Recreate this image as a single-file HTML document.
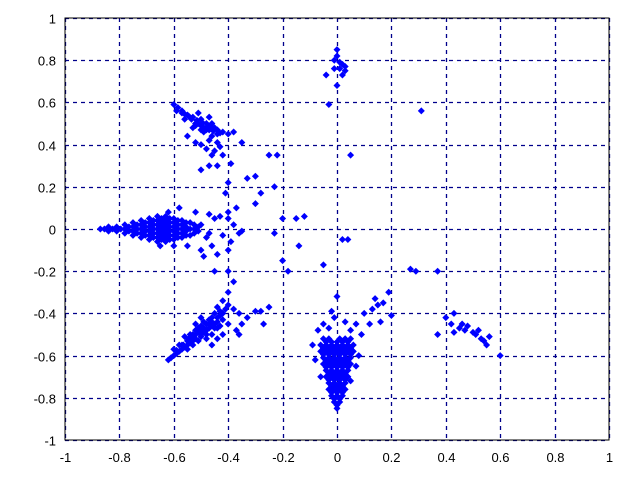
<!DOCTYPE html>
<html><head><meta charset="utf-8"><style>
html,body{margin:0;padding:0;background:#fff}
svg{display:block;font-family:"Liberation Sans",sans-serif}
</style></head><body>
<svg id="chart" width="640" height="480" viewBox="0 0 640 480" xmlns="http://www.w3.org/2000/svg">
<g id="grid"></g>
<g id="pts"></g>
<rect x="65" y="18" width="544" height="422" fill="none" stroke="#000" stroke-width="1"/>
<g id="ticks"></g>
</svg>
<script>
const xTicks=[-1,-0.8,-0.6,-0.4,-0.2,0,0.2,0.4,0.6,0.8,1];
const yTicks=[-1,-0.8,-0.6,-0.4,-0.2,0,0.2,0.4,0.6,0.8,1];
const tickLabels=["-1","-0.8","-0.6","-0.4","-0.2","0","0.2","0.4","0.6","0.8","1"];
const hBlob=[[-0.87,0],[-0.84,0.01],[-0.84,-0.01],[-0.81,0.01],[-0.81,-0.01],[-0.81,0],[-0.78,0.02],[-0.78,0],[-0.78,-0.02],[-0.75,0.03],[-0.75,0.01],[-0.75,-0.01],[-0.75,-0.03],[-0.72,0.04],[-0.72,0.02],[-0.72,0],[-0.72,-0.02],[-0.72,-0.04],[-0.69,0.05],[-0.69,0.03],[-0.69,0.01],[-0.69,-0.01],[-0.69,-0.03],[-0.69,-0.05],[-0.66,0.06],[-0.66,0.04],[-0.66,0.02],[-0.66,0],[-0.66,-0.02],[-0.66,-0.04],[-0.66,-0.06],[-0.63,0.06],[-0.63,0.04],[-0.63,0.02],[-0.63,0],[-0.63,-0.02],[-0.63,-0.04],[-0.63,-0.06],[-0.6,0.05],[-0.6,0.03],[-0.6,0.01],[-0.6,-0.01],[-0.6,-0.03],[-0.6,-0.05],[-0.57,0.04],[-0.57,0.02],[-0.57,0],[-0.57,-0.02],[-0.57,-0.04],[-0.54,0.03],[-0.54,0],[-0.54,-0.03],[-0.51,0.01],[-0.51,-0.01]];
const hCore=[[-0.855,0],[-0.825,0],[-0.795,0],[-0.765,0.01],[-0.765,-0.01],[-0.735,0.02],[-0.735,0],[-0.735,-0.02],[-0.705,0.03],[-0.705,0.01],[-0.705,-0.01],[-0.705,-0.03],[-0.675,0.04],[-0.675,0.02],[-0.675,0],[-0.675,-0.02],[-0.675,-0.04],[-0.645,0.05],[-0.645,0.03],[-0.645,0.01],[-0.645,-0.01],[-0.645,-0.03],[-0.645,-0.05],[-0.615,0.05],[-0.615,0.03],[-0.615,0.01],[-0.615,-0.01],[-0.615,-0.03],[-0.615,-0.05],[-0.585,0.04],[-0.585,0.02],[-0.585,0],[-0.585,-0.02],[-0.585,-0.04],[-0.555,0.03],[-0.555,0.01],[-0.555,-0.01],[-0.555,-0.03],[-0.525,0.02],[-0.525,0],[-0.525,-0.02]];
const hScatter=[[-0.5,0.02],[-0.47,-0.02],[-0.45,0.05],[-0.43,0.06],[-0.48,-0.04],[-0.42,-0.03],[-0.55,-0.08],[-0.6,-0.08],[-0.5,-0.1],[-0.46,-0.08],[-0.38,0.02],[-0.4,0.05],[-0.36,-0.02],[-0.39,-0.06],[-0.44,-0.12],[-0.49,-0.13],[-0.37,0.1],[-0.28,0.17],[-0.3,0.12],[-0.23,0.2],[-0.2,0.05],[-0.15,0.05],[-0.12,0.06],[-0.23,-0.02],[-0.14,-0.08],[-0.05,-0.17],[0.02,-0.05],[0.04,-0.05],[-0.2,-0.15],[-0.18,-0.2],[-0.4,-0.2],[-0.45,-0.2],[-0.38,-0.25],[-0.4,-0.1],[-0.58,0.1],[-0.52,0.08],[-0.47,0.07],[-0.4,0.08],[-0.65,-0.08],[-0.62,0.08],[-0.35,-0.01],[-0.41,0.17]];
const llBlob=[[-0.62,-0.62],[-0.6,-0.6],[-0.58,-0.58],[-0.6,-0.57],[-0.57,-0.55],[-0.55,-0.57],[-0.55,-0.53],[-0.53,-0.55],[-0.56,-0.51],[-0.53,-0.51],[-0.51,-0.53],[-0.52,-0.48],[-0.5,-0.5],[-0.48,-0.52],[-0.5,-0.46],[-0.48,-0.48],[-0.46,-0.5],[-0.49,-0.44],[-0.47,-0.45],[-0.45,-0.47],[-0.46,-0.42],[-0.44,-0.44],[-0.43,-0.46],[-0.45,-0.4],[-0.43,-0.41],[-0.42,-0.43],[-0.44,-0.37],[-0.41,-0.38],[-0.58,-0.55],[-0.54,-0.5],[-0.51,-0.47],[-0.47,-0.43],[-0.42,-0.34],[-0.4,-0.36],[-0.38,-0.38],[-0.36,-0.4],[-0.35,-0.45],[-0.37,-0.48],[-0.4,-0.45],[-0.36,-0.5],[-0.42,-0.5],[-0.46,-0.55],[-0.44,-0.52],[-0.3,-0.39],[-0.33,-0.42],[-0.28,-0.39],[-0.27,-0.45],[-0.25,-0.37],[-0.4,-0.3],[-0.5,-0.42],[-0.52,-0.45]];
const llCore=[[-0.61,-0.61],[-0.59,-0.59],[-0.59,-0.575],[-0.57,-0.57],[-0.565,-0.55],[-0.56,-0.56],[-0.54,-0.54],[-0.545,-0.52],[-0.52,-0.52],[-0.53,-0.5],[-0.51,-0.49],[-0.5,-0.51],[-0.49,-0.47],[-0.48,-0.5],[-0.47,-0.47],[-0.46,-0.44],[-0.45,-0.45],[-0.44,-0.42],[-0.44,-0.47],[-0.43,-0.39],[-0.42,-0.4],[-0.55,-0.55],[-0.52,-0.5],[-0.49,-0.49],[-0.46,-0.46],[-0.48,-0.45],[-0.5,-0.48],[-0.53,-0.53]];
const ulBlob=[[-0.6,0.59],[-0.59,0.56],[-0.57,0.55],[-0.55,0.54],[-0.56,0.52],[-0.53,0.53],[-0.52,0.5],[-0.5,0.52],[-0.5,0.49],[-0.48,0.5],[-0.47,0.47],[-0.46,0.5],[-0.45,0.48],[-0.49,0.46],[-0.53,0.48],[-0.51,0.55],[-0.47,0.53],[-0.44,0.45],[-0.42,0.46],[-0.4,0.45],[-0.38,0.46],[-0.35,0.41],[-0.46,0.44],[-0.44,0.41],[-0.47,0.42],[-0.48,0.38],[-0.45,0.37],[-0.43,0.39],[-0.46,0.35],[-0.5,0.4],[-0.55,0.44],[-0.52,0.41],[-0.42,0.35],[-0.39,0.31],[-0.47,0.3],[-0.5,0.28],[-0.44,0.3],[-0.4,0.22],[-0.33,0.24],[-0.3,0.25],[-0.22,0.35],[-0.25,0.35]];
const ulCore=[[-0.585,0.575],[-0.57,0.56],[-0.56,0.545],[-0.545,0.535],[-0.535,0.52],[-0.515,0.515],[-0.51,0.5],[-0.495,0.505],[-0.49,0.48],[-0.475,0.485],[-0.465,0.49],[-0.455,0.465],[-0.48,0.47],[-0.5,0.47],[-0.52,0.49],[-0.46,0.475],[-0.44,0.47],[-0.43,0.455]];
const topBlob=[[0,0.85],[0,0.82],[-0.01,0.8],[0.01,0.79],[0.02,0.78],[0.03,0.77],[0.01,0.76],[-0.01,0.76],[0.03,0.75],[0.02,0.73],[-0.04,0.73],[0,0.68],[-0.03,0.59],[0.31,0.56],[0.05,0.35]];
const vBlob=[[-0.05,-0.52],[-0.03,-0.52],[0.01,-0.52],[0.03,-0.52],[0.05,-0.52],[-0.06,-0.55],[-0.04,-0.55],[-0.02,-0.55],[0,-0.55],[0.02,-0.55],[0.04,-0.55],[0.06,-0.55],[-0.06,-0.58],[-0.04,-0.58],[-0.02,-0.58],[0,-0.58],[0.02,-0.58],[0.04,-0.58],[0.06,-0.58],[-0.05,-0.61],[-0.03,-0.61],[-0.01,-0.61],[0.01,-0.61],[0.03,-0.61],[0.05,-0.61],[-0.05,-0.64],[-0.03,-0.64],[-0.01,-0.64],[0.01,-0.64],[0.03,-0.64],[0.05,-0.64],[-0.04,-0.67],[-0.02,-0.67],[0,-0.67],[0.02,-0.67],[0.04,-0.67],[-0.04,-0.7],[-0.02,-0.7],[0,-0.7],[0.02,-0.7],[0.04,-0.7],[-0.03,-0.73],[-0.01,-0.73],[0.01,-0.73],[0.03,-0.73],[-0.03,-0.76],[-0.01,-0.76],[0.01,-0.76],[0.03,-0.76],[-0.02,-0.79],[0,-0.79],[0.02,-0.79],[-0.01,-0.82],[0.01,-0.82],[0,-0.85]];
const vCore=[[-0.04,-0.535],[-0.02,-0.535],[0,-0.535],[0.02,-0.535],[0.04,-0.535],[-0.05,-0.565],[-0.03,-0.565],[-0.01,-0.565],[0.01,-0.565],[0.03,-0.565],[0.05,-0.565],[-0.05,-0.595],[-0.03,-0.595],[-0.01,-0.595],[0.01,-0.595],[0.03,-0.595],[0.05,-0.595],[-0.04,-0.625],[-0.02,-0.625],[0,-0.625],[0.02,-0.625],[0.04,-0.625],[-0.04,-0.655],[-0.02,-0.655],[0,-0.655],[0.02,-0.655],[0.04,-0.655],[-0.03,-0.685],[-0.01,-0.685],[0.01,-0.685],[0.03,-0.685],[-0.03,-0.715],[-0.01,-0.715],[0.01,-0.715],[0.03,-0.715],[-0.02,-0.745],[0,-0.745],[0.02,-0.745],[-0.02,-0.775],[0,-0.775],[0.02,-0.775],[-0.01,-0.805],[0.01,-0.805],[0,-0.835]];
const vScatter=[[-0.07,-0.48],[-0.05,-0.45],[-0.03,-0.47],[-0.01,-0.42],[0.03,-0.44],[0.05,-0.48],[0.07,-0.45],[0.09,-0.5],[0.08,-0.6],[0.07,-0.65],[-0.08,-0.62],[-0.09,-0.55],[-0.02,-0.39],[0.1,-0.4],[0.13,-0.38],[0.15,-0.36],[0.17,-0.35],[0.2,-0.41],[0.16,-0.44],[0.12,-0.45],[0.05,-0.72],[-0.06,-0.7],[0,-0.32],[0.14,-0.33],[0.27,-0.19],[0.29,-0.2],[0.37,-0.2],[0.19,-0.3]];
const rBlob=[[0.4,-0.42],[0.42,-0.45],[0.43,-0.4],[0.45,-0.47],[0.46,-0.45],[0.47,-0.48],[0.48,-0.46],[0.5,-0.49],[0.51,-0.5],[0.52,-0.48],[0.53,-0.52],[0.54,-0.53],[0.55,-0.55],[0.56,-0.51],[0.6,-0.6],[0.37,-0.5],[0.43,-0.49]];

const NS="http://www.w3.org/2000/svg";
const X0=65,X1=609,Y0=440,Y1=18;
function sx(v){return X0+(v+1)/2*(X1-X0);}
function sy(v){return Y0-(v+1)/2*(Y0-Y1);}
const grid=document.getElementById('grid'),ticks=document.getElementById('ticks'),pts=document.getElementById('pts');
function mk(tag,attrs,parent){const e=document.createElementNS(NS,tag);for(const k in attrs)e.setAttribute(k,attrs[k]);parent.appendChild(e);return e;}
xTicks.forEach((v,i)=>{
  const x=Math.round(sx(v))+0.5;
  const g=mk('line',{x1:x,x2:x,y1:Y1,y2:Y0,stroke:'#00008b','stroke-width':1.3,'stroke-dasharray':'4,4'},grid);
  
  
  const t=mk('text',{x:x,y:Y0+22,'text-anchor':'middle','font-size':13,fill:'#000'},ticks);
  
  
  t.textContent=tickLabels[i];
});
yTicks.forEach((v,i)=>{
  const y=Math.round(sy(v))+0.5;
  const g=mk('line',{x1:X0,x2:X1,y1:y,y2:y,stroke:'#00008b','stroke-width':1.3,'stroke-dasharray':'4,4'},grid);
  
  
  const t=mk('text',{x:X0-9,y:y+5,'text-anchor':'end','font-size':13,fill:'#000'},ticks);
  
  
  t.textContent=tickLabels[i];
});
const R=3.5;
[hBlob,hCore,hScatter,llBlob,llCore,ulBlob,ulCore,topBlob,vBlob,vCore,vScatter,rBlob].forEach(arr=>{
  arr.forEach(p=>{
    const x=sx(p[0]),y=sy(p[1]);
    const d=mk('path',{d:`M${x-R},${y}L${x},${y-R}L${x+R},${y}L${x},${y+R}Z`,fill:'#0000ff'},pts);
    
    
  });
});
</script>
</body></html>
